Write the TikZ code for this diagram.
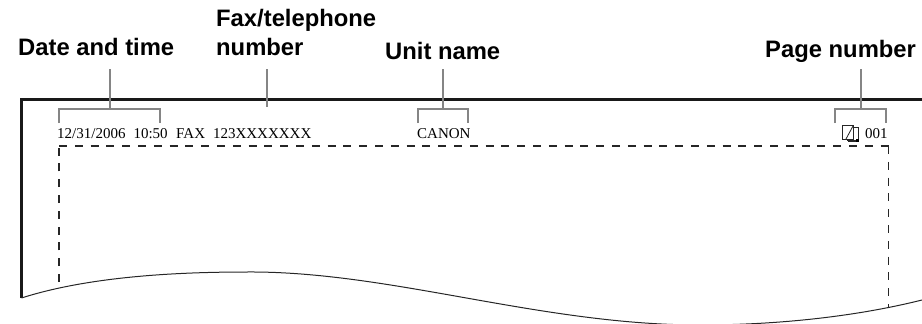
\documentclass[tikz,border=0pt]{standalone}
\usepackage{fontspec}
\setmainfont{Liberation Serif}
\newfontfamily\labelfont{Liberation Sans}
\definecolor{leadgray}{gray}{0.52}
\tikzset{
  x=1pt, y=-1pt,
  callout/.style={font=\labelfont\bfseries\fontsize{23.8}{29}\selectfont, align=left, inner sep=0pt, anchor=base west},
  stamp/.style={font=\fontsize{15}{17}\selectfont, inner sep=0pt, anchor=base west},
  lead/.style={draw=leadgray, line width=2.6pt},
  paperline/.style={draw=black!90, line width=3pt},
  cutline/.style={draw=black!85, line width=1pt},
  arealine/.style={draw=black!85, dash pattern=on 8pt off 7.8pt}
}
\begin{document}
\begin{tikzpicture}
    \useasboundingbox (0,0) rectangle (922,324);

    % labels
    \node (datelabel) [callout] at (18,55) {Date and time};
    \node (faxlabel) [callout] at (216,55) {Fax/telephone\\number};
    \node (unitlabel) [callout] at (385,59) {Unit name};
    \node (pagelabel) [callout] at (765,57) {Page number};

    % stamp line
    \node (datetext) [stamp] at (57,138) {12/31/2006\hspace{8pt}10:50};
    \node (faxtext) [stamp] at (176,138) {FAX\hspace{8pt}123XXXXXXX};
    \node (unittext) [stamp] at (417,138) {CANON};
    \node (pagetext) [stamp] at (865,138) {001};

    % paper edge
    \coordinate (topleft) at (21.5,99.5);
    \coordinate (topright) at (922,99.5);
    \coordinate (botleft) at (21.5,298);
    \coordinate (botright) at (922,300);
    \draw [paperline] (botleft) -- (topleft) -- (topright);
    \draw [cutline] (botleft) .. controls (90,276) and (180,272) .. (247,272)
       .. controls (390,271) and (540,325) .. (700,325)
       .. controls (770,325) and (850,318) .. (botright);

    % print area
    \coordinate (arealeft) at (59,282);
    \coordinate (areatopleft) at (59,146);
    \coordinate (areatopright) at (888.5,146);
    \coordinate (arearight) at (888.5,307);
    \draw [arealine, line width=1.2pt] (arealeft) -- (areatopleft);
    \draw [arealine, line width=1.5pt] (areatopleft) -- (areatopright);
    \draw [arealine, line width=1.2pt] (areatopright) -- (arearight);

    % brackets
    \foreach \name/\xa/\xb in {date/59/160, unit/418/468, page/835/886} {
      \coordinate (\name a) at (\xa,123);
      \coordinate (\name b) at (\xb,123);
      \draw [lead] (\name a) |- (\name b |- 0,109) -- (\name b);
    }
    \coordinate (datemid) at (110,109);
    \coordinate (faxend) at (267,107);
    \coordinate (unitmid) at (443,109);
    \coordinate (pagemid) at (861,109);
    \draw [lead, shorten <=14pt] (datelabel.south -| datemid) -- (datemid);
    \draw [lead, shorten <=14pt] (faxlabel.south -| faxend) -- (faxend);
    \draw [lead, shorten <=10pt] (unitlabel.south -| unitmid) -- (unitmid);
    \draw [lead, shorten <=7pt] (pagelabel.south -| pagemid) -- (pagemid);

    % page icon
    \draw [black!85, line width=.8pt] (853,127) -- (858,127) -- (858,140.5) -- (847,140.5);
    \draw [black!85, line width=.8pt, fill=white] (842,125) rectangle (853,139);
    \draw [black!85, line width=.8pt] (846,139) -- (853,126);
    \draw [black!85, line width=1.6pt] (848,141) -- (858,141);
    \fill [black] (855.5,139) rectangle (858.5,142);
\end{tikzpicture}
\end{document}
